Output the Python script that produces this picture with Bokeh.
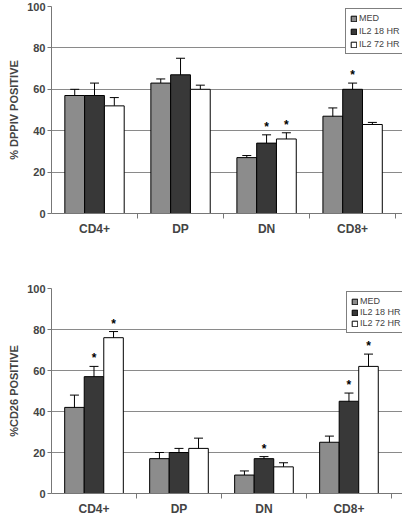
from bokeh.plotting import figure
from bokeh.layouts import column
from bokeh.models import ColumnDataSource, Whisker, TeeHead, FixedTicker, Legend, LegendItem, Range1d
from bokeh.core.properties import value
from bokeh.embed import file_html
from bokeh.resources import INLINE

categories = ["CD4+", "DP", "DN", "CD8+"]
series = ["MED", "IL2 18 HR", "IL2 72 HR"]
colors = ["#8c8c8c", "#383838", "#ffffff"]

# Top panel: % DPPIV positive
dppiv_vals = [[57, 63, 27, 47], [57, 67, 34, 60], [52, 60, 36, 43]]
dppiv_lo = [[54, 61, 26, 43], [51, 59, 30, 57], [48, 58, 33, 42]]
dppiv_hi = [[60, 65, 28, 51], [63, 75, 38, 63], [56, 62, 39, 44]]
dppiv_star = [[False, False, False, False], [False, False, True, True], [False, False, True, False]]

# Bottom panel: % CD26 positive
cd26_vals = [[42, 17, 9, 25], [57, 20, 17, 45], [76, 22, 13, 62]]
cd26_lo = [[36, 14, 7, 22], [52, 18, 16, 41], [73, 17, 11, 56]]
cd26_hi = [[48, 20, 11, 28], [62, 22, 18, 49], [79, 27, 15, 68]]
cd26_star = [[False, False, False, False], [True, False, True, True], [True, False, False, True]]

y_ticks = [0, 20, 40, 60, 80, 100]
bar_w = 0.23
offsets = [-0.23, 0.0, 0.23]
FONT = "Liberation Sans"


def make_panel(vals, lo, hi, star, ylabel, height, bl, bt, bb, x_end, leg_loc, x_standoff, leg_spacing):
    p = figure(width=402, height=height, output_backend="svg", toolbar_location=None,
               x_range=Range1d(0, x_end), y_range=Range1d(0, 100),
               min_border_left=bl, min_border_right=0, min_border_top=bt, min_border_bottom=bb)
    p.outline_line_color = None
    p.background_fill_color = "white"
    items = []
    for s in range(3):
        xs = [i + 0.5 + offsets[s] for i in range(4)]
        src = ColumnDataSource(dict(x=xs, top=vals[s], lo=lo[s], hi=hi[s]))
        r = p.vbar(x="x", top="top", width=bar_w, source=src, fill_color=colors[s],
                   line_color="black", line_width=1)
        items.append(LegendItem(label=series[s], renderers=[r]))
        w = Whisker(source=src, base="x", upper="hi", lower="lo", line_color="black", line_width=1,
                    upper_head=TeeHead(size=9, line_color="black", line_width=1),
                    lower_head=TeeHead(size=9, line_color="black", line_width=1))
        p.add_layout(w)
        sx = [xs[i] for i in range(4) if star[s][i]]
        sy = [hi[s][i] for i in range(4) if star[s][i]]
        if sx:
            ssrc = ColumnDataSource(dict(x=sx, y=sy, t=["*"] * len(sx)))
            p.text(x="x", y="y", text="t", source=ssrc, text_align="center", text_baseline="bottom",
                   y_offset=-1, text_font=value(FONT), text_font_size="12px",
                   text_font_style="bold", text_color="black")
    leg = Legend(items=items, location=leg_loc)
    leg.border_line_color = "black"
    leg.border_line_width = 1
    leg.background_fill_color = "white"
    leg.background_fill_alpha = 1
    leg.label_text_font = FONT
    leg.label_text_font_size = "9px"
    leg.glyph_width = 7
    leg.glyph_height = 7
    leg.label_standoff = 2
    leg.spacing = leg_spacing
    leg.padding = 4
    leg.margin = 0
    leg.label_height = 10
    p.add_layout(leg)

    p.yaxis.ticker = FixedTicker(ticks=y_ticks)
    p.yaxis.axis_label = ylabel
    p.yaxis.axis_label_text_font = FONT
    p.yaxis.axis_label_text_font_style = "bold"
    p.yaxis.axis_label_text_font_size = "11px"
    p.yaxis.axis_label_standoff = 4
    p.yaxis.major_label_text_font = FONT
    p.yaxis.major_label_text_font_style = "bold"
    p.yaxis.major_label_text_font_size = "11px"
    p.yaxis.major_label_standoff = 2
    p.yaxis.major_tick_in = 0
    p.yaxis.major_tick_out = 4
    p.yaxis.minor_tick_line_color = None
    p.yaxis.axis_line_color = "#777777"
    p.yaxis.major_tick_line_color = "#777777"

    p.xaxis.ticker = FixedTicker(ticks=[0.5, 1.5, 2.5, 3.5], minor_ticks=[1, 2, 3, 4])
    p.xaxis.major_label_overrides = {0.5: categories[0], 1.5: categories[1],
                                     2.5: categories[2], 3.5: categories[3]}
    p.xaxis.major_label_text_font = FONT
    p.xaxis.major_label_text_font_style = "bold"
    p.xaxis.major_label_text_font_size = "12px"
    p.xaxis.major_tick_line_color = None
    p.xaxis.major_tick_in = 0
    p.xaxis.major_tick_out = 0
    p.xaxis.minor_tick_in = 0
    p.xaxis.minor_tick_out = 5
    p.xaxis.minor_tick_line_color = "#777777"
    p.xaxis.axis_line_color = "#777777"
    p.xaxis.major_label_standoff = x_standoff

    p.xgrid.grid_line_color = None
    p.ygrid.ticker = FixedTicker(ticks=y_ticks[1:])
    p.ygrid.grid_line_color = "#8a8a8a"
    p.ygrid.grid_line_width = 1
    return p


p1 = make_panel(dppiv_vals, dppiv_lo, dppiv_hi, dppiv_star, "% DPPIV POSITIVE",
                257, 47, 6, 44, 4.08, (294, 159), 3, 3)
p2 = make_panel(cd26_vals, cd26_lo, cd26_hi, cd26_star, "%CD26 POSITIVE",
                261, 51, 31, 25, 4.13, (295, 160), 3, 1)

p = column(p1, p2, spacing=0)
open("out.html", "w").write(file_html(p, INLINE))
